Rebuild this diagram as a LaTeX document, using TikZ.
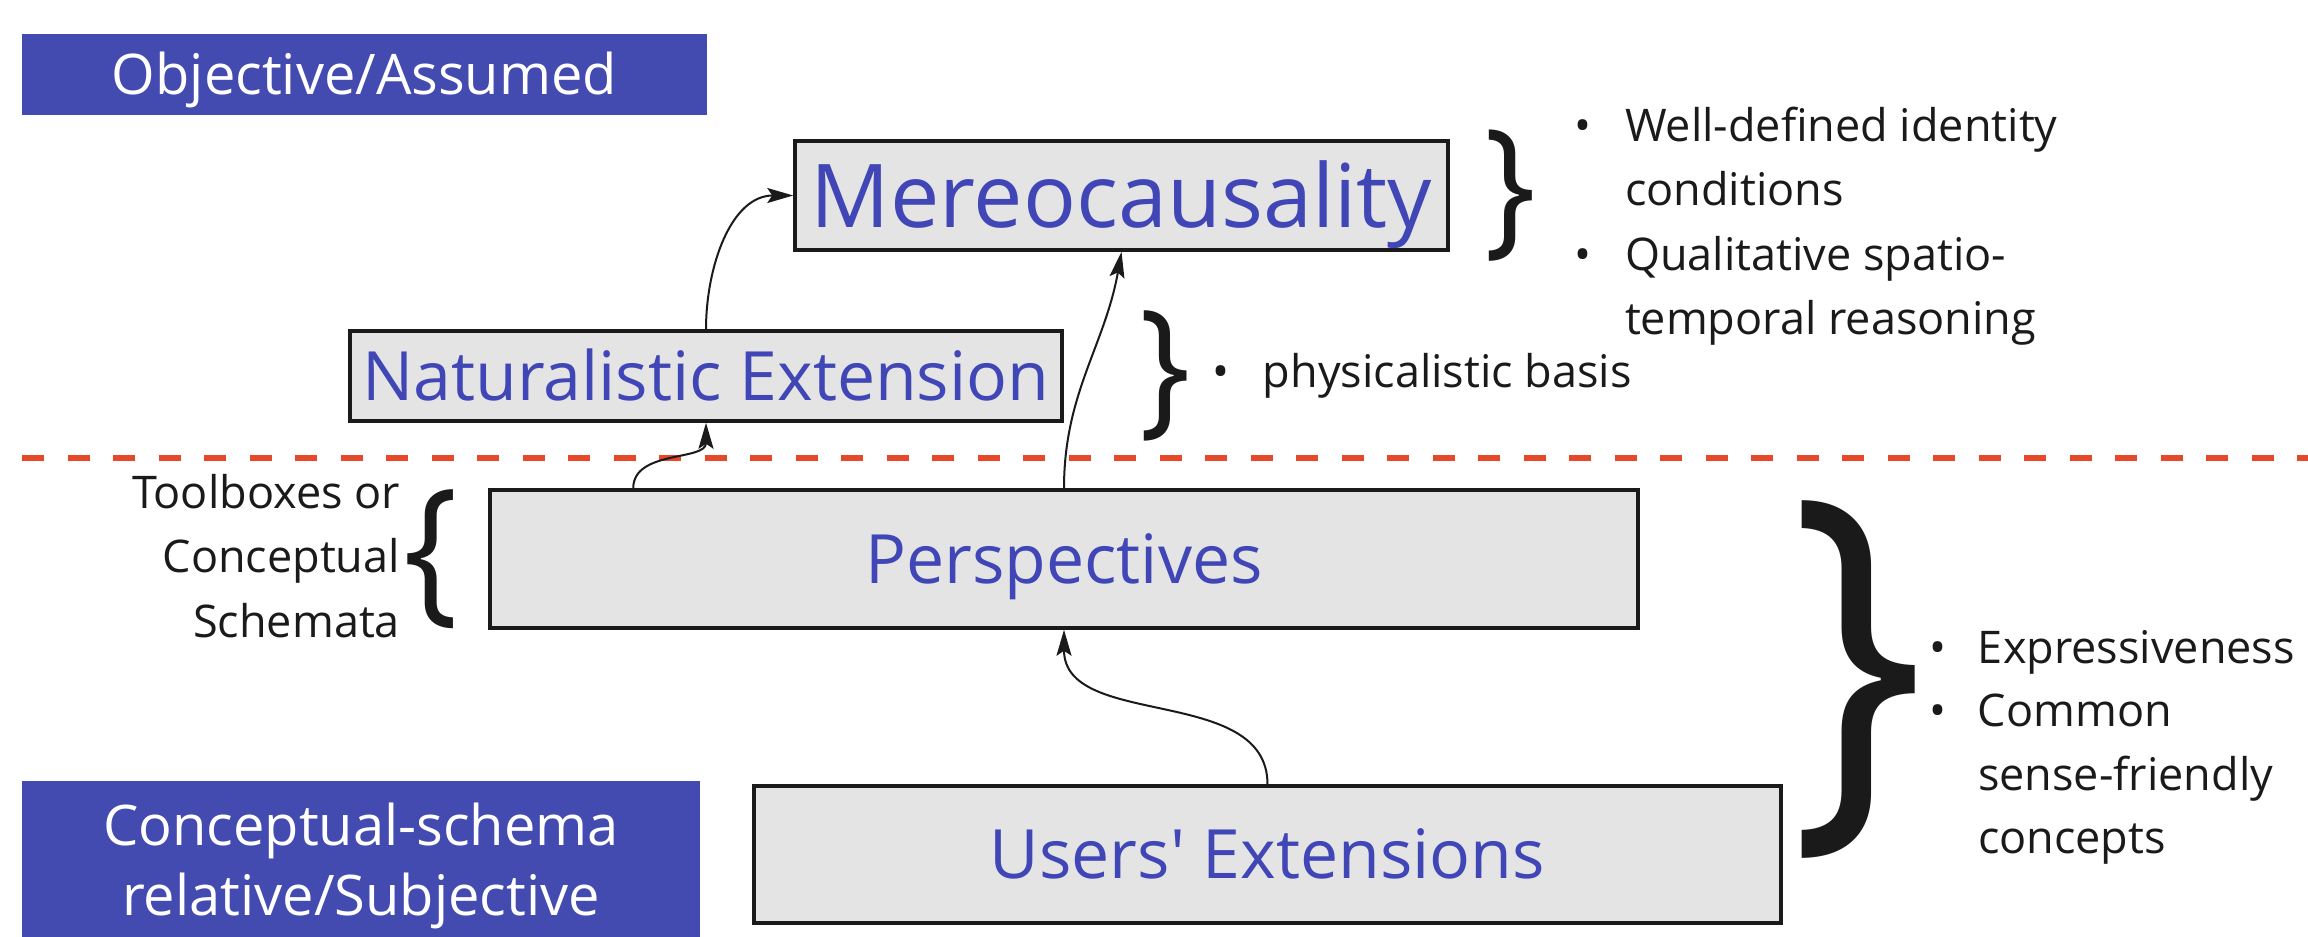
\documentclass[tikz,border=0pt]{standalone}
\usepackage{fontspec}
\setmainfont{Open Sans}[Ligatures=TeXOff]
\usetikzlibrary{arrows.meta,positioning}

\definecolor{boxblue}{RGB}{67,75,177}
\definecolor{txtblue}{RGB}{64,70,182}
\definecolor{boxgrey}{RGB}{228,228,228}
\definecolor{divred}{RGB}{232,72,42}
\definecolor{ink}{RGB}{26,26,26}

\newcommand{\fsz}[2]{\fontsize{#1}{#2}\selectfont}
\newcommand{\tallbrace}[1]{\scalebox{1}[1.1]{#1}}

\begin{document}
\begin{tikzpicture}[x=1pt,y=-1pt,>={Stealth[length=26pt,width=15pt,inset=5pt]},
    level/.style={draw=ink,line width=3.5pt,fill=boxgrey,text=txtblue,inner sep=0pt,text depth=0pt},
    side/.style={fill=boxblue,text=white,inner sep=0pt,font=\fsz{56}{70}},
    brace/.style={inner sep=0pt,outer sep=0pt,text=ink},
    notes/.style={inner sep=0pt,outer sep=0pt,text=ink,anchor=base west},
    link/.style={->,line width=2pt,draw=ink},
    divider/.style={draw=divred,line width=6.5pt,dash pattern=on 22pt off 23.5pt}]

    \useasboundingbox (0,0) rectangle (2308,937);

    % objective / subjective halves
    \coordinate (divL) at (22,458);
    \coordinate (divR) at (2308,458);
    \draw[divider] (divL) -- (divR);

    \node[side,minimum width=685pt,minimum height=81pt,text height=40pt,text depth=0pt] (objective) at (364.5,74.5) {Objective/Assumed};
    \node[side,minimum width=678pt,minimum height=156pt,align=center,text depth=0pt] (subjective) at (361,859) {Conceptual-schema\\relative/Subjective};

    % levels
    \node[level,minimum width=653pt,minimum height=109pt,text height=63pt,font=\fsz{88}{100}] (mereo) at (1121.5,195.5) {Mereocausality};
    \node[level,minimum width=712pt,minimum height=90pt,text height=48pt,font=\fsz{68}{80}] (nat) at (706,376) {Naturalistic Extension};
    \node[level,minimum width=1148pt,minimum height=138pt,text height=48pt,font=\fsz{68}{80}] (persp) at (1064,559) {Perspectives};
    \node[level,minimum width=1027pt,minimum height=137pt,text height=48pt,font=\fsz{68}{80}] (users) at (1267.5,854.5) {Users' Extensions};

    % braces
    \node[brace,font=\fsz{137}{137}] (brMereo) [right=35pt of mereo] {\tallbrace{\}}};
    \node[brace,font=\fsz{136}{136}] (brNat) [right=76pt of nat] {\tallbrace{\}}};
    \node[brace,font=\fsz{145}{145}] (brPersp) [left=30pt of persp] {\tallbrace{\{}};
    \node[brace,font=\fsz{387}{387}] (brBig) at (1858,680) {\scalebox{0.93}[1.06]{\}}};

    % notes
    \node[notes,font=\fsz{45}{64.5}] (mereoNotes) at (1574,141) {\begin{tabular}[t]{@{}p{51pt}@{}l@{}}
        \textbullet & Well-defined identity\\
                    & conditions\\
        \textbullet & Qualitative spatio-\\
                    & temporal reasoning
    \end{tabular}};
    \node[notes,font=\fsz{45}{64.5}] (natNotes) at (1212,387) {\begin{tabular}[t]{@{}p{51pt}@{}l@{}}
        \textbullet & physicalistic basis
    \end{tabular}};
    \node[notes,font=\fsz{45}{63.5}] (userNotes) at (1929,663) {\begin{tabular}[t]{@{}p{49pt}@{}l@{}}
        \textbullet & Expressiveness\\
        \textbullet & Common\\
                    & sense-friendly\\
                    & concepts
    \end{tabular}};
    \node[notes,anchor=base east,font=\fsz{45}{64.5}] (perspNotes) at (400,508) {\begin{tabular}[t]{@{}r@{}}
        Toolboxes or\\
        Conceptual\\
        Schemata
    \end{tabular}};

    % extensions
    \draw[link] (nat.north) to[out=90,in=180] (mereo.west);
    \draw[link] ([xshift=145pt]persp.north west) to[out=90,in=-90] (nat.south);
    \draw[link] (persp.north) to[out=90,in=-100] (mereo.south);
    \draw[link] (users.north) to[out=90,in=-90] (persp.south);
\end{tikzpicture}
\end{document}
